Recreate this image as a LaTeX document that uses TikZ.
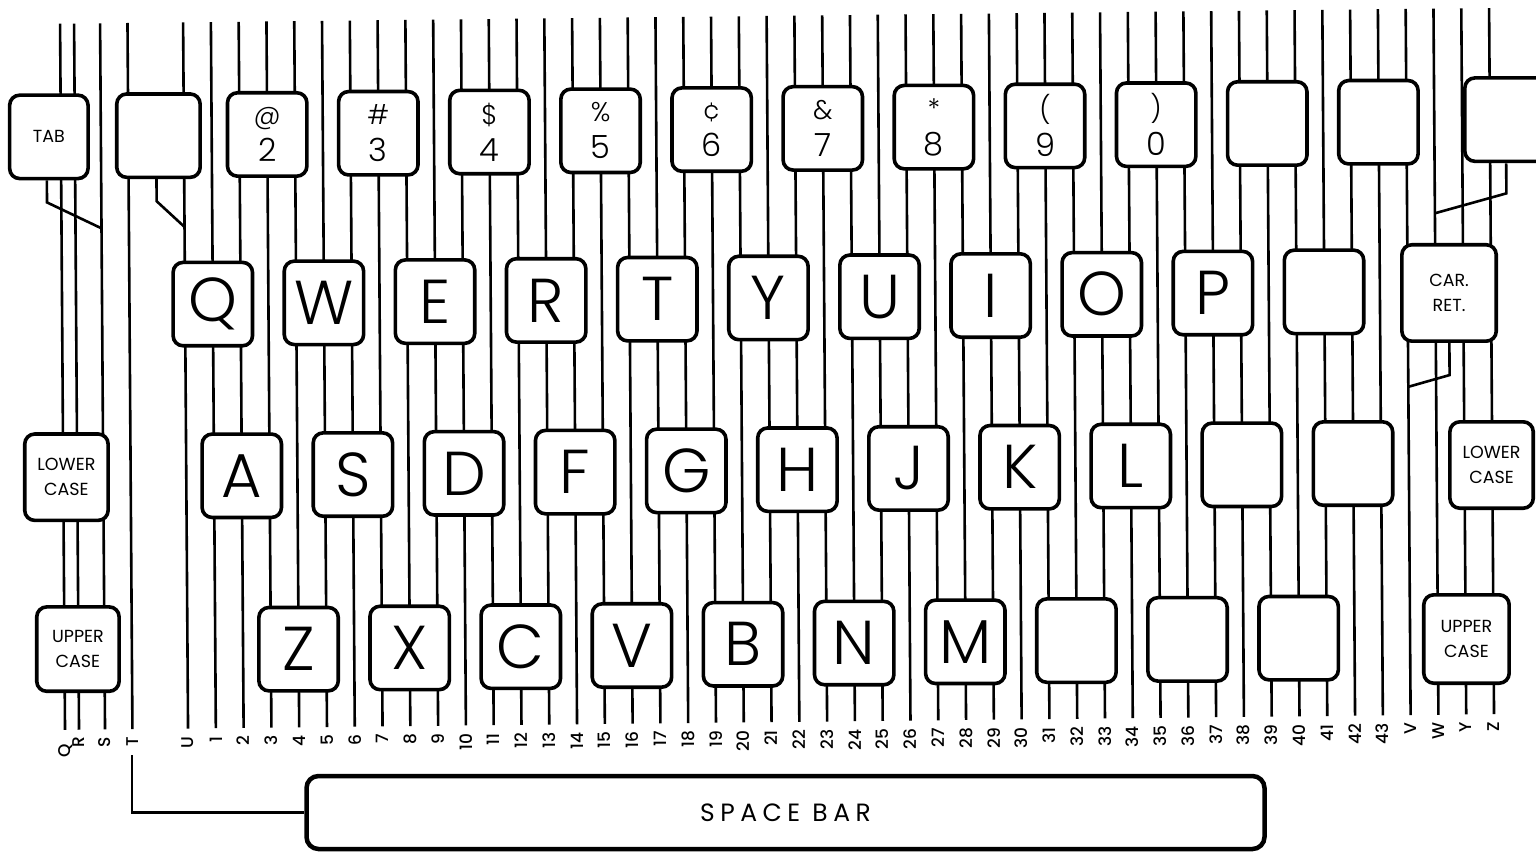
\documentclass[tikz,border=0pt]{standalone}
\usepackage{fontspec}
\setmainfont{Poppins}
\newfontfamily\lightfont{Poppins Light}
\newfontfamily\mediumfont{Poppins Medium}
\newcommand{\keysym}[1]{{\fontsize{27}{37}\selectfont#1}}

\begin{document}
\begin{tikzpicture}[x=1pt,y=-1pt,
  wire/.style={line width=2.6pt},
  key/.style={draw,fill=white,line width=3.6pt,rounded corners=10pt,inner sep=0pt,align=center,minimum width=79.4pt,minimum height=83.4pt},
  letter/.style={font=\lightfont\fontsize{62}{62}\selectfont},
  numkey/.style={font=\lightfont\fontsize{32}{37}\selectfont},
  marked/.style={font=\fontsize{17.5}{25}\selectfont},
  tag/.style={rotate=90,anchor=east,inner sep=0pt,font=\mediumfont\fontsize{17}{17}\selectfont}]
\useasboundingbox (0,0) rectangle (1536,854);
\clip (0,0) rectangle (1536,854);
\begin{scope}[cm={1,0.011,-0.007,1,(-5.054pt,-8.448pt)}]
\foreach \w/\u/\v in {Q/65/736,R/79/729,S/105/730,T/132.4/730,U/188/730,V/1410.3/730,W/1438.1/730,Y/1465.9/730,Z/1493.7/730}{
  \coordinate (wire-\w-top) at (\u,16);
  \coordinate (wire-\w-bot) at (\u,722);
  \draw[wire] (wire-\w-top) -- (wire-\w-bot);
  \node[tag] (tag-\w) at (\u,\v) {\w};
}
\foreach \w in {1,...,43}{
  \coordinate (wire-\w-top) at ({188+27.78*\w},16);
  \coordinate (wire-\w-bot) at ({188+27.78*\w},722);
  \draw[wire] (wire-\w-top) -- (wire-\w-bot);
  \node[tag] (tag-\w) at ({188+27.78*\w},730) {\w};
}
\foreach \face [count=\col from 0] in {{\keysym{@}\\2},{\keysym{\#}\\3},{\keysym{\$}\\4},{\keysym{\%}\\5},{\keysym{¢}\\6},{\keysym{\&}\\7},{\keysym{*}\\8},{\keysym{(}\\9},{\keysym{)}\\0},{},{}}
  \node[key,numkey] (key-top-\col) at ({188+27.78*(3+4*\col)},129) {\face};
\foreach \face [count=\col from 0] in {Q,W,E,R,T,Y,U,I,O,P,{}}
  \node[key,letter] (key-q-\col) at ({188+27.78*(1+4*\col)},298) {\face};
\foreach \face [count=\col from 0] in {A,S,D,F,G,H,J,K,L,{},{}}
  \node[key,letter] (key-a-\col) at ({188+27.78*(2+4*\col)},470) {\face};
\foreach \face [count=\col from 0] in {Z,X,C,V,B,N,M,{},{},{}}
  \node[key,letter] (key-z-\col) at ({188+27.78*(4+4*\col)},644) {\face};
\node[key,marked,minimum width=78.4pt] (key-tab) at (53,129) {TAB};
\node[key,minimum width=83.4pt] (key-blank-left) at (162.6,129) {};
\node[key,minimum width=120pt] (key-blank-right) at (1529,128) {};
\node[key,marked,minimum width=94.4pt,minimum height=96.4pt] (key-car-ret) at (1452,300.5) {CAR.\\RET.};
\node[key,marked,minimum width=83.4pt,minimum height=86.4pt] (key-lower-left) at (68.2,469.5) {LOWER\\CASE};
\node[key,marked,minimum width=82.4pt,minimum height=84.4pt] (key-upper-left) at (78.5,641.5) {UPPER\\CASE};
\node[key,marked,minimum width=83.4pt,minimum height=86.4pt] (key-lower-right) at (1493.3,473) {LOWER\\CASE};
\node[key,marked,minimum width=85.4pt,minimum height=88.4pt] (key-upper-right) at (1467,646.7) {UPPER\\CASE};
\coordinate (joint-s) at (105,221);
\coordinate (joint-u) at (188,220.5);
\coordinate (joint-w) at (1438.1,220.6);
\coordinate (joint-v) at (1410.3,393.8);
\draw[wire] ([xshift=-2pt]key-tab.south) -- ++(0,22) -- (joint-s);
\draw[wire] ([xshift=-2pt]key-blank-left.south) -- ++(0,22) -- (joint-u);
\draw[wire] ([xshift=-19pt]key-blank-right.south) -- ++(0,30) -- (joint-w);
\draw[wire] (key-car-ret.south) -- ++(0,32) -- (joint-v);
\end{scope}
\node[draw,line width=4.5pt,rounded corners=12pt,minimum width=958pt,minimum height=73pt,inner sep=0pt,font=\fontsize{25}{25}\selectfont\addfontfeature{LetterSpace=22}] (space-bar) at (785.5,812.5) {SPACE BAR};
\coordinate (space-feed) at (132,755);
\draw[wire] (space-feed) |- (space-bar.west);
\end{tikzpicture}
\end{document}
